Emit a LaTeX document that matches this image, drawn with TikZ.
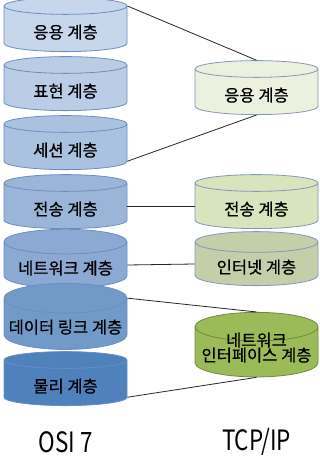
\documentclass[tikz,border=0pt]{standalone}
\usepackage{fontspec}
\setmainfont{Noto Sans CJK KR}[FakeBold=0.6]
\newfontfamily\narrowfont[FakeStretch=0.8]{Noto Sans CJK KR}
\usetikzlibrary{shapes.geometric,positioning}
\definecolor{cOsiA}{HTML}{C8D6EB}
\definecolor{cOsiB}{HTML}{BACCE6}
\definecolor{cOsiC}{HTML}{ABC1E0}
\definecolor{cOsiD}{HTML}{9BB5D9}
\definecolor{cOsiE}{HTML}{8BA9D3}
\definecolor{cOsiF}{HTML}{729AC9}
\definecolor{cOsiG}{HTML}{4F81BD}
\definecolor{cOsiLine}{HTML}{6C8EBF}
\definecolor{cTcpA}{HTML}{EBF1DE}
\definecolor{cTcpB}{HTML}{D7E4BD}
\definecolor{cTcpC}{HTML}{C4CFAA}
\definecolor{cTcpD}{HTML}{9BBB59}
\definecolor{cTcpLine}{HTML}{8497B8}
\definecolor{cTcpDark}{HTML}{71893F}
\tikzset{
  fig/layer/.style={shape=cylinder, shape border rotate=90, aspect=0.26,
                    draw=cOsiLine, line width=0.8pt, inner sep=0pt,
                    minimum width=123pt, minimum height=54pt,
                    font=\fontsize{16.5}{18}\selectfont, align=center,
                    text height=20pt},
  fig/osi/.style  ={fig/layer, fill=#1},
  fig/tcp/.style  ={fig/layer, fill=#1, draw=cTcpLine},
  fig/link/.style ={draw=black!85, line width=0.8pt},
  fig/title/.style={font=\narrowfont\fontsize{28}{30}\selectfont}
}
\begin{document}
\begin{tikzpicture}[x=1pt, y=-1pt]
    \useasboundingbox (0,0) rectangle (320,468);
    % OSI 7 stack, top to bottom
    \foreach \i/\col/\name in {1/cOsiA/응용 계층, 2/cOsiB/표현 계층, 3/cOsiC/세션 계층,
        4/cOsiD/전송 계층, 5/cOsiE/네트워크 계층, 6/cOsiF/데이터 링크 계층, 7/cOsiG/물리 계층} {
      \node[fig/osi=\col] (osi\i) at (65.5, 29+59*\i-59) {\name};
    }
    % TCP/IP stack
    \node[fig/tcp=cTcpA] (tcp1) at (256.5, 92)  {응용 계층};
    \node[fig/tcp=cTcpB] (tcp2) at (256.5, 206) {전송 계층};
    \node[fig/tcp=cTcpC] (tcp3) at (256.5, 264) {인터넷 계층};
    \node[fig/tcp=cTcpD, draw=cTcpDark] (tcp4) at (256.5, 352) {네트워크\\[-3pt]인터페이스 계층};

    % mapping lines
    \draw[fig/link] (osi1.after top) -- (tcp1.top);
    \draw[fig/link] (tcp1.bottom) -- (osi3.before bottom);
    \draw[fig/link] (osi4.east) -- (tcp2.west);
    \draw[fig/link] (osi5.east) -- (tcp3.west);
    \draw[fig/link] (osi6.after top) -- (tcp4.top);
    \draw[fig/link] (tcp4.bottom) -- (osi7.before bottom);

    % captions
    \node[fig/title] (capOsi) at (65.5, 442) {OSI 7};
    \node[fig/title] (capTcp) at (256.5, 442) {TCP/IP};
  \end{tikzpicture}
\end{document}
